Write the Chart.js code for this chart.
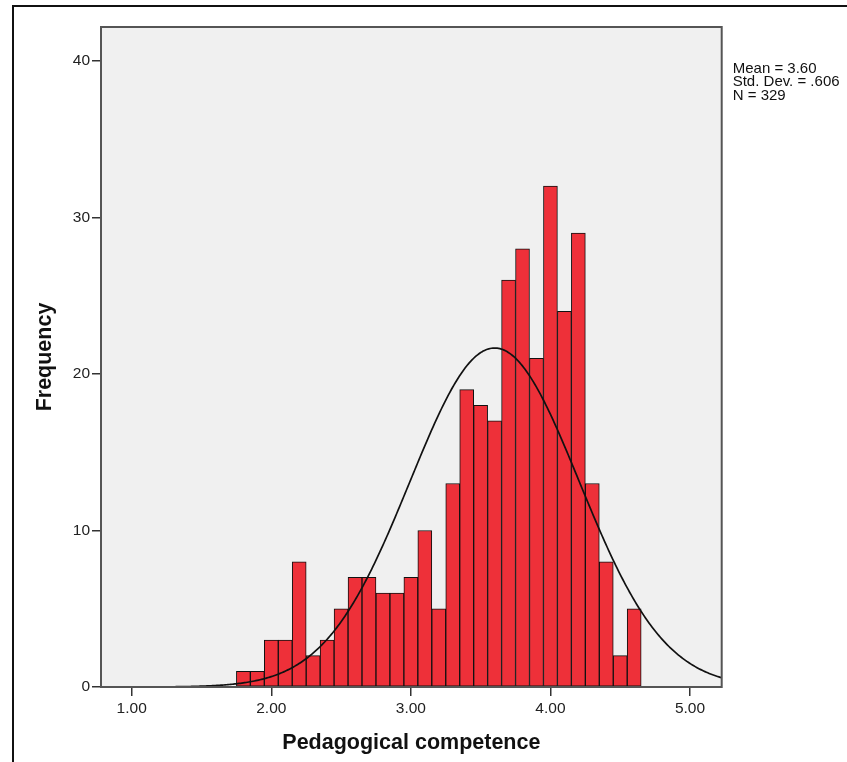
<!DOCTYPE html>
<html>
<head>
<meta charset="utf-8">
<title>Pedagogical competence</title>
<script src="https://cdn.jsdelivr.net/npm/chart.js@4.4.1/dist/chart.umd.min.js"></script>
<style>
  html, body { margin: 0; padding: 0; background: #fff; overflow: hidden; }
  #wrap { position: relative; width: 847px; height: 762px; }
  /* outer frame around the whole output, runs off the right and bottom */
  #frame { position: absolute; left: 12px; top: 5px; width: 900px; height: 900px; border: 2px solid #111; box-sizing: border-box; }
  canvas { position: absolute; left: 0; top: 0; }
</style>
</head>
<body>
<div id="wrap">
  <div id="frame"></div>
  <canvas id="hist" width="847" height="762"></canvas>
</div>
<script>
// histogram bins, width 0.10, given by their midpoints
const binMids = [1.80, 1.90, 2.00, 2.10, 2.20, 2.30, 2.40, 2.50, 2.60, 2.70,
                 2.80, 2.90, 3.00, 3.10, 3.20, 3.30, 3.40, 3.50, 3.60, 3.70,
                 3.80, 3.90, 4.00, 4.10, 4.20, 4.30, 4.40, 4.50, 4.60];
const frequencies = [1, 1, 3, 3, 8, 2, 3, 5, 7, 7,
                     6, 6, 7, 10, 5, 13, 19, 18, 17, 26,
                     28, 21, 32, 24, 29, 13, 8, 2, 5];
const xTickValues = [1, 2, 3, 4, 5];
const yTickValues = [0, 10, 20, 30, 40];

// summary statistics
const MEAN = 3.60;
const SD = 0.606;
const N = 329;
const BIN_WIDTH = 0.1;

// axis ranges
const X_MIN = 0.78, X_MAX = 5.227;
const Y_MIN = 0, Y_MAX = 42.17;

const statLines = [
    "Mean = " + MEAN.toFixed(2),
    "Std. Dev. = " + SD.toFixed(3).replace(/^0/, ""),
    "N = " + N
];

// fitted normal curve, scaled to counts per bin
function normalCount(x) {
    const z = (x - MEAN) / SD;
    return N * BIN_WIDTH * Math.exp(-0.5 * z * z) / (SD * Math.sqrt(2 * Math.PI));
}
const curvePoints = [];
for (let i = 0; i <= 445; i++) {
    const x = X_MIN + (X_MAX - X_MIN) * i / 445;
    curvePoints.push({ x: x, y: normalCount(x) });
}

const FONT = "'Liberation Sans', Arial, sans-serif";
Chart.defaults.font.family = FONT;
Chart.defaults.color = "#222";

// grey plot background and frame around the plot area
const plotFrame = {
    id: "plotFrame",
    beforeDatasetsDraw(chart) {
        const { ctx, chartArea: a } = chart;
        ctx.save();
        ctx.fillStyle = "#f0f0f0";
        ctx.fillRect(a.left, a.top, a.width, a.height);
        ctx.restore();
    },
    afterDatasetsDraw(chart) {
        const { ctx, chartArea: a } = chart;
        ctx.save();
        ctx.strokeStyle = "#555";
        ctx.lineWidth = 2;
        ctx.strokeRect(a.left, a.top, a.width, a.height);
        ctx.restore();
    }
};

// stats block to the right of the plot
const statsBox = {
    id: "statsBox",
    afterDraw(chart) {
        const { ctx, chartArea: a } = chart;
        ctx.save();
        ctx.font = "15px " + FONT;
        ctx.fillStyle = "#111";
        ctx.textAlign = "left";
        ctx.textBaseline = "alphabetic";
        statLines.forEach((line, i) => {
            ctx.fillText(line, a.right + 11, a.top + 45.7 + i * 13.4);
        });
        ctx.restore();
    }
};

new Chart(document.getElementById("hist"), {
    type: "bar",
    data: {
        datasets: [
            {
                type: "line",
                data: curvePoints,
                borderColor: "#111",
                borderWidth: 1.7,
                pointRadius: 0,
                tension: 0,
                fill: false,
                order: 0
            },
            {
                type: "bar",
                data: binMids.map((m, i) => ({ x: m, y: frequencies[i] })),
                backgroundColor: "#ee3039",
                borderColor: "#111",
                borderWidth: 1,
                borderSkipped: false,
                barPercentage: 1,
                categoryPercentage: 1,
                order: 1
            }
        ]
    },
    options: {
        responsive: false,
        animation: false,
        layout: { padding: { left: 0, top: 27, right: 125.3, bottom: 0 } },
        plugins: {
            legend: { display: false },
            tooltip: { enabled: false }
        },
        scales: {
            x: {
                type: "linear",
                min: X_MIN,
                max: X_MAX,
                offset: false,
                border: { display: false },
                grid: { display: true, offset: false, drawOnChartArea: false, tickLength: 9, tickColor: "#333", lineWidth: 1.5 },
                afterBuildTicks: (scale) => { scale.ticks = xTickValues.map(v => ({ value: v })); },
                ticks: {
                    padding: 3,
                    font: { size: 15.5 },
                    color: "#222",
                    maxRotation: 0,
                    callback: (v) => Number(v).toFixed(2)
                },
                title: {
                    display: true,
                    text: "Pedagogical competence",
                    font: { size: 21.5, weight: "bold" },
                    color: "#111",
                    padding: { top: 0, bottom: 6 }
                },
                afterFit: (scale) => { scale.height = 75; }
            },
            y: {
                min: Y_MIN,
                max: Y_MAX,
                border: { display: false },
                grid: { display: true, drawOnChartArea: false, tickLength: 9, tickColor: "#333", lineWidth: 1.5 },
                afterBuildTicks: (scale) => { scale.ticks = yTickValues.map(v => ({ value: v })); },
                ticks: {
                    padding: 2,
                    font: { size: 15.5 },
                    color: "#222"
                },
                title: {
                    display: true,
                    text: "Frequency",
                    font: { size: 21.5, weight: "bold" },
                    color: "#111",
                    padding: { top: 32.1, bottom: 0 }
                },
                afterFit: (scale) => { scale.width = 101; }
            }
        }
    },
    plugins: [plotFrame, statsBox]
});
</script>
</body>
</html>
